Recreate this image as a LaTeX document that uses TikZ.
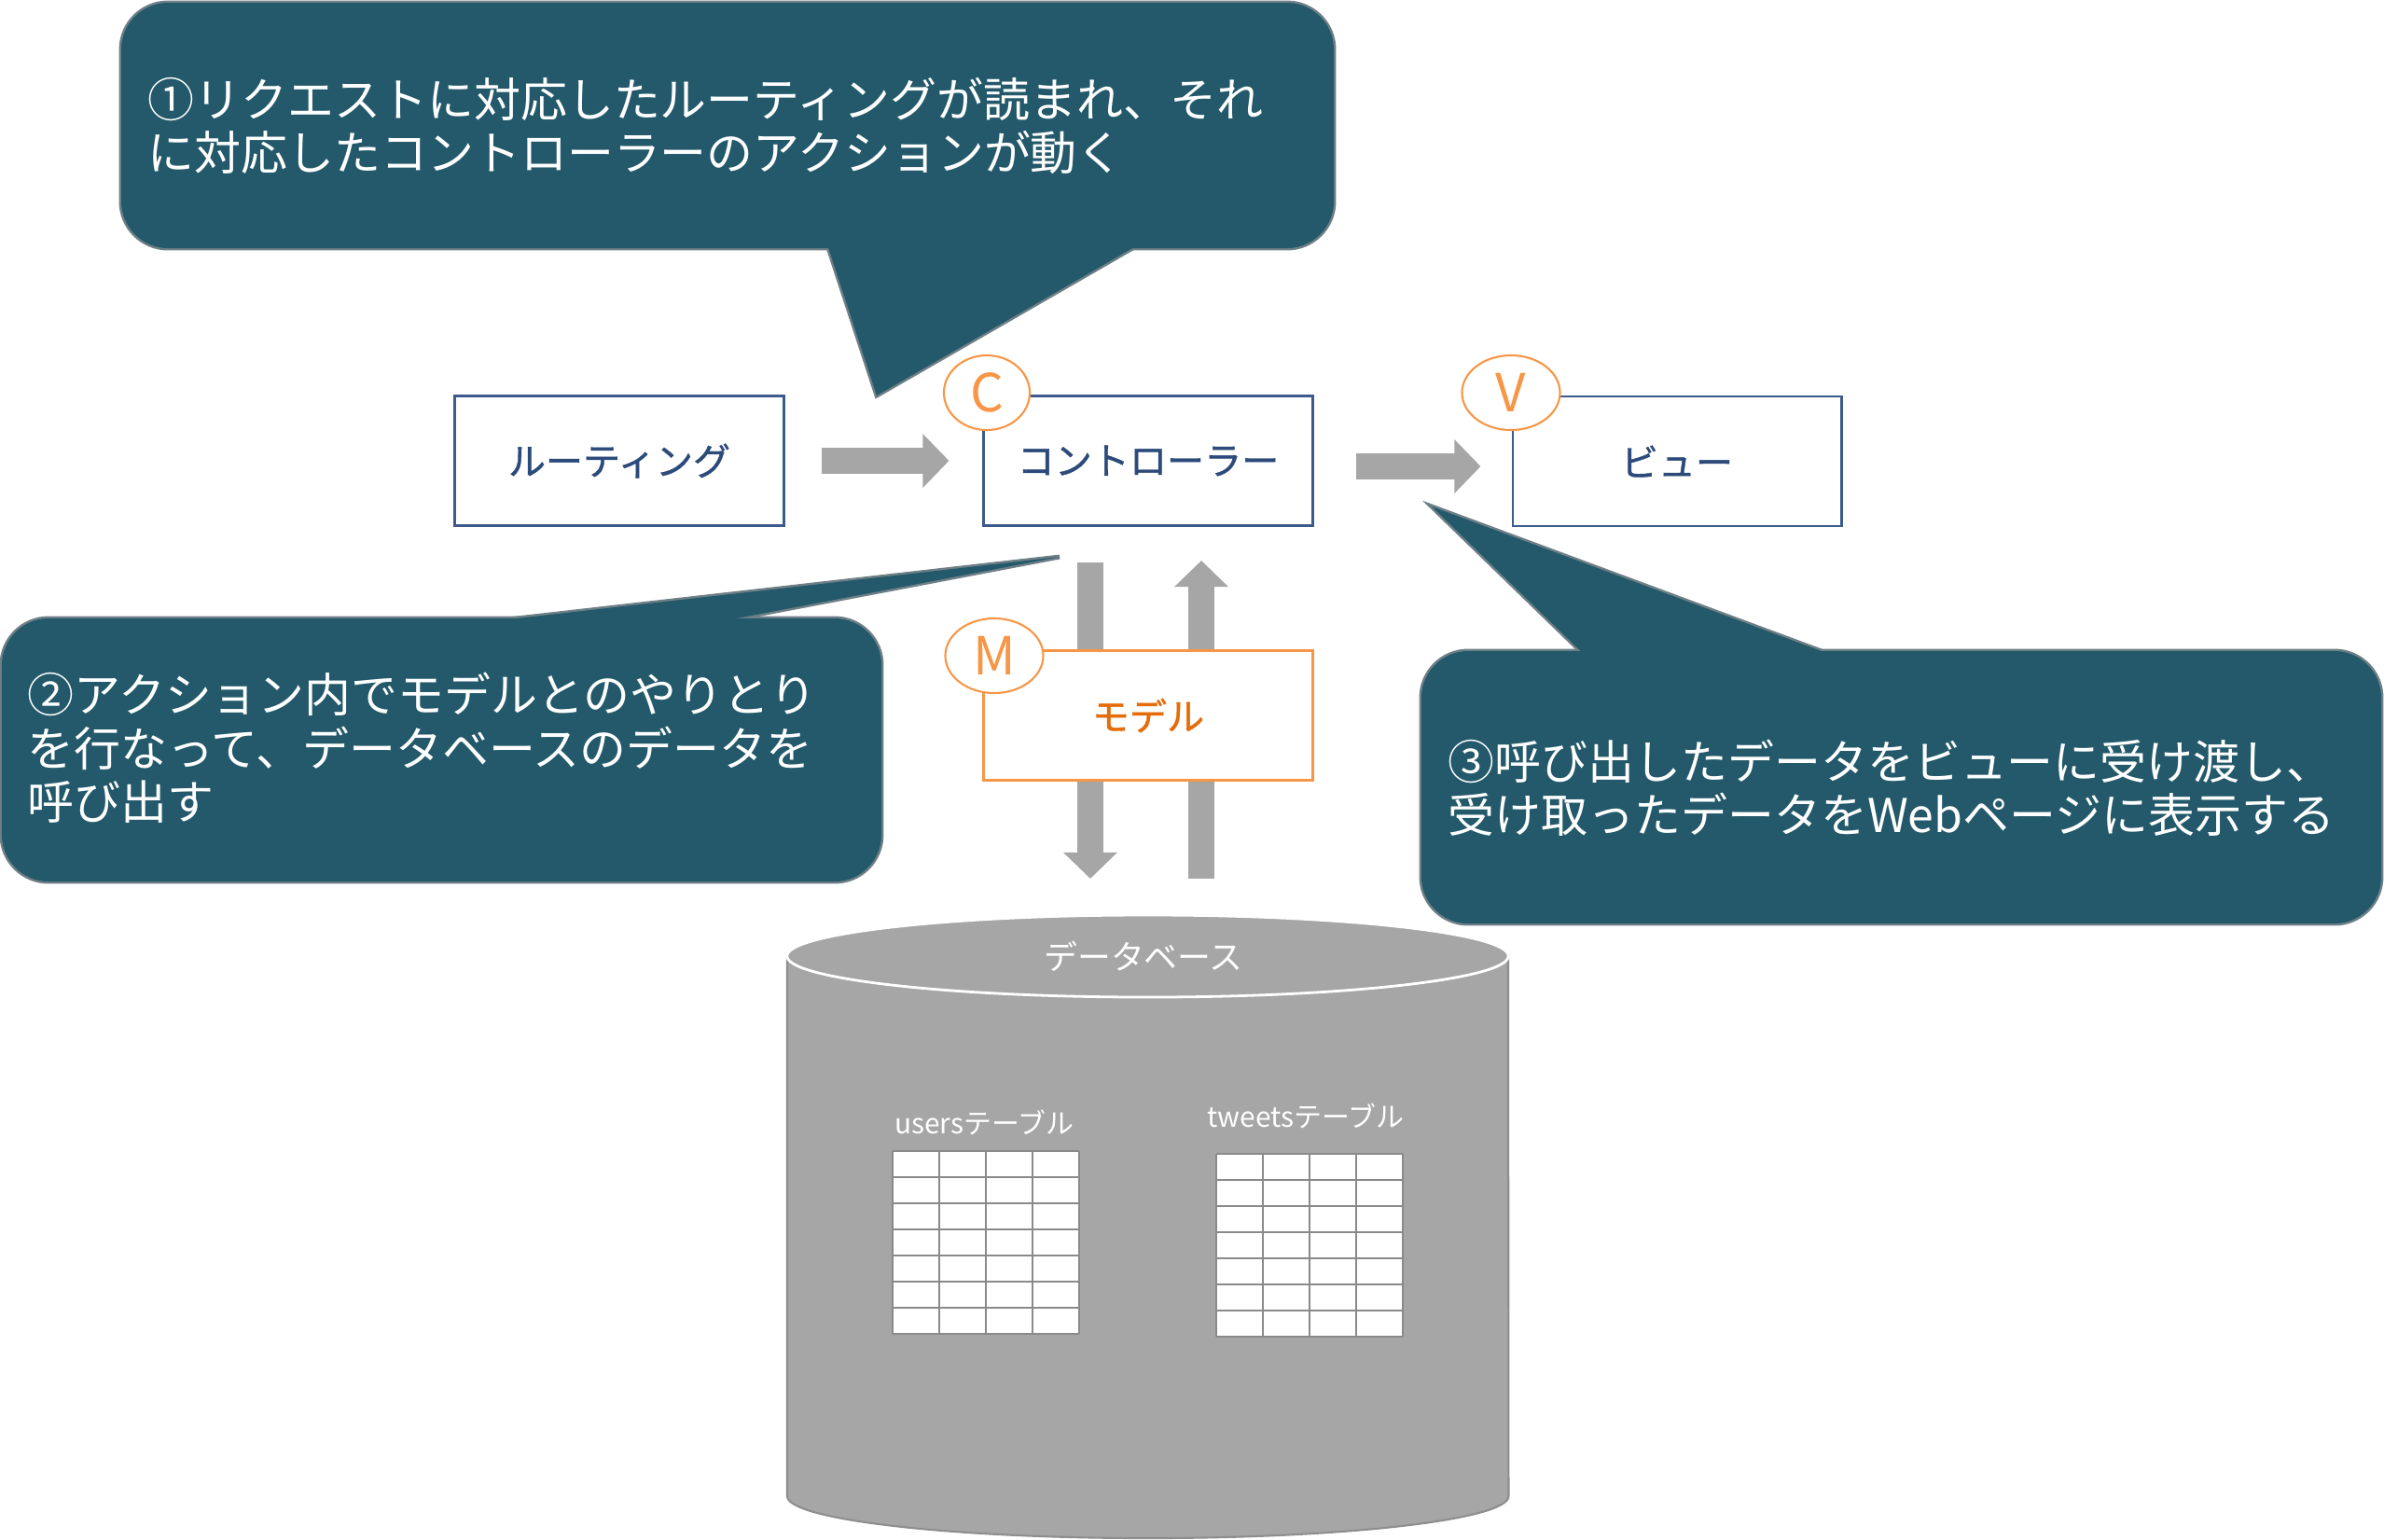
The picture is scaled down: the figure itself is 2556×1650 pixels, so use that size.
\documentclass[tikz,border=0pt]{standalone}
\usepackage{fontspec}
\setmainfont{Noto Sans CJK JP}
\newfontfamily\cjkmed[FakeBold=1]{Noto Sans CJK JP}
\usetikzlibrary{arrows.meta,calc,shapes.geometric}
\definecolor{calloutc}{HTML}{23596A}
\definecolor{edgec}{HTML}{6E7F86}
\definecolor{navyline}{HTML}{3C5A8C}
\definecolor{navytext}{HTML}{2C4A7A}
\definecolor{orangeline}{HTML}{F79646}
\definecolor{orangetext}{HTML}{E46C0A}
\definecolor{arrowgray}{HTML}{A6A6A6}
\definecolor{dbgray}{HTML}{A6A6A6}
\definecolor{dbedge}{HTML}{8E8E8E}
\definecolor{gridc}{HTML}{8A8A8A}
\begin{document}
\begin{tikzpicture}[x=0.01cm,y=-0.01cm,
  bubbleedge/.style={draw=edgec,line width=1.4pt,fill=calloutc},
  bubble/.style={fill=calloutc},
  btext/.style={text=white,font=\fontsize{14.2}{16.3}\selectfont,align=left,inner sep=0pt},
  mvcbox/.style={rectangle,draw=navyline,line width=0.8pt,fill=white,minimum width=3.52cm,minimum height=1.39cm,inner sep=0pt,text=navytext,font=\cjkmed\fontsize{11.4}{13}\selectfont},
  badge/.style={ellipse,draw=orangeline,line width=0.6pt,fill=white,minimum height=0.8cm,inner sep=0pt,text=orangeline,font=\fontsize{16}{16}\selectfont},
  blockarrow/.style={draw=arrowgray,line width=0.28cm,-{Triangle[length=0.28cm,width=0.56cm]}},
  dbtext/.style={text=white,font=\fontsize{10.2}{12}\selectfont,inner sep=0pt},
  tbltext/.style={text=white,font=\fontsize{8.5}{10}\selectfont,inner sep=0pt},
  gridline/.style={draw=gridc,line width=0.7pt}
]
\useasboundingbox (0,0) rectangle (2556,1650);

% ---- callout 1
\path[bubbleedge,rounded corners=0.5cm] (130,3) rectangle (1430,266);
\path[bubbleedge] (883,250) -- (940,424) -- (1242,250) -- cycle;
\path[bubble,rounded corners=0.5cm] (130,3) rectangle (1430,266);
\path[bubble] (883,250) -- (940,424) -- (1242,250) -- cycle;
\node[btext,anchor=west] (t1) at (158,135) {①リクエストに対応したルーティングが読まれ、それ\\に対応したコントローラーのアクションが動く};

% ---- callout 2
\path[bubbleedge,rounded corners=0.5cm] (2,663) rectangle (945,945);
\path[bubbleedge] (492,670) -- (1136,597) -- (753,670) -- cycle;
\path[bubble,rounded corners=0.5cm] (2,663) rectangle (945,945);
\path[bubble] (492,670) -- (1136,597) -- (753,670) -- cycle;
\node[btext,anchor=west] (t2) at (29,802) {②アクション内でモデルとのやりとり\\を行なって、データベースのデータを\\呼び出す};

% ---- callout 3
\path[bubbleedge,rounded corners=0.5cm] (1524,698) rectangle (2553,990);
\path[bubbleedge] (1707,710) -- (1535,543) -- (1985,710) -- cycle;
\path[bubble,rounded corners=0.5cm] (1524,698) rectangle (2553,990);
\path[bubble] (1707,710) -- (1535,543) -- (1985,710) -- cycle;
\node[btext,anchor=west] (t3) at (1552,845) {③呼び出したデータをビューに受け渡し、\\受け取ったデータをWebページに表示する};

% ---- database cylinder
\coordinate (dbtop) at (1230,981);
\path[fill=dbgray,draw=dbedge,line width=0.6pt] (844,1025) -- (844,1604)
  arc[start angle=180,end angle=360,x radius=3.865cm,y radius=0.45cm] -- (1617,1025) -- cycle;
\draw[white,line width=0.8pt,fill=dbgray] (1230.5,1025) ellipse [x radius=3.865cm,y radius=0.44cm];
\node[dbtext] (dbl) at (1226,1025) {データベース};
\node[tbltext] (ul) at (1055,1203) {usersテーブル};
\node[tbltext] (tl) at (1400,1196) {tweetsテーブル};

% tables
\fill[white] (957,1234) rectangle (1157,1430);
\foreach \i in {0,...,4} \draw[gridline] ({957+50*\i},1234) -- ({957+50*\i},1430);
\foreach \j in {0,...,7} \draw[gridline] (957,{1234+28*\j}) -- (1157,{1234+28*\j});
\fill[white] (1304,1237) rectangle (1504,1433);
\foreach \i in {0,...,4} \draw[gridline] ({1304+50*\i},1237) -- ({1304+50*\i},1433);
\foreach \j in {0,...,7} \draw[gridline] (1304,{1237+28*\j}) -- (1504,{1237+28*\j});

% ---- boxes
\node[mvcbox] (rout) at (664,494) {ルーティング};
\node[mvcbox] (ctrl) at (1231,494) {コントローラー};
\node[mvcbox] (view) at (1798,494.5) {ビュー};

% ---- arrows
\draw[blockarrow] ([xshift=0.39cm]rout.east) -- ([xshift=-0.36cm]ctrl.west);
\draw[blockarrow] ([xshift=0.45cm,yshift=-0.06cm]ctrl.east) -- ([xshift=-0.33cm,yshift=-0.06cm]ctrl.east -| view.west);
\draw[blockarrow] ([xshift=-0.62cm,yshift=-0.38cm]ctrl.south) -- ([xshift=-0.62cm,yshift=0.39cm]dbtop -| ctrl.south);
\draw[blockarrow] ([xshift=0.57cm,yshift=0.39cm]dbtop -| ctrl.south) -- ([xshift=0.57cm,yshift=-0.36cm]ctrl.south);

\node[mvcbox,draw=orangeline,text=orangetext] (model) at (1231,767) {モデル};

% ---- badges
\node[badge,minimum width=0.92cm] (bC) at (1058,421) {C};
\node[badge,minimum width=1.05cm] (bV) at (1620,421) {V};
\node[badge,minimum width=1.05cm] (bM) at (1066,703) {M};
\end{tikzpicture}
\end{document}
